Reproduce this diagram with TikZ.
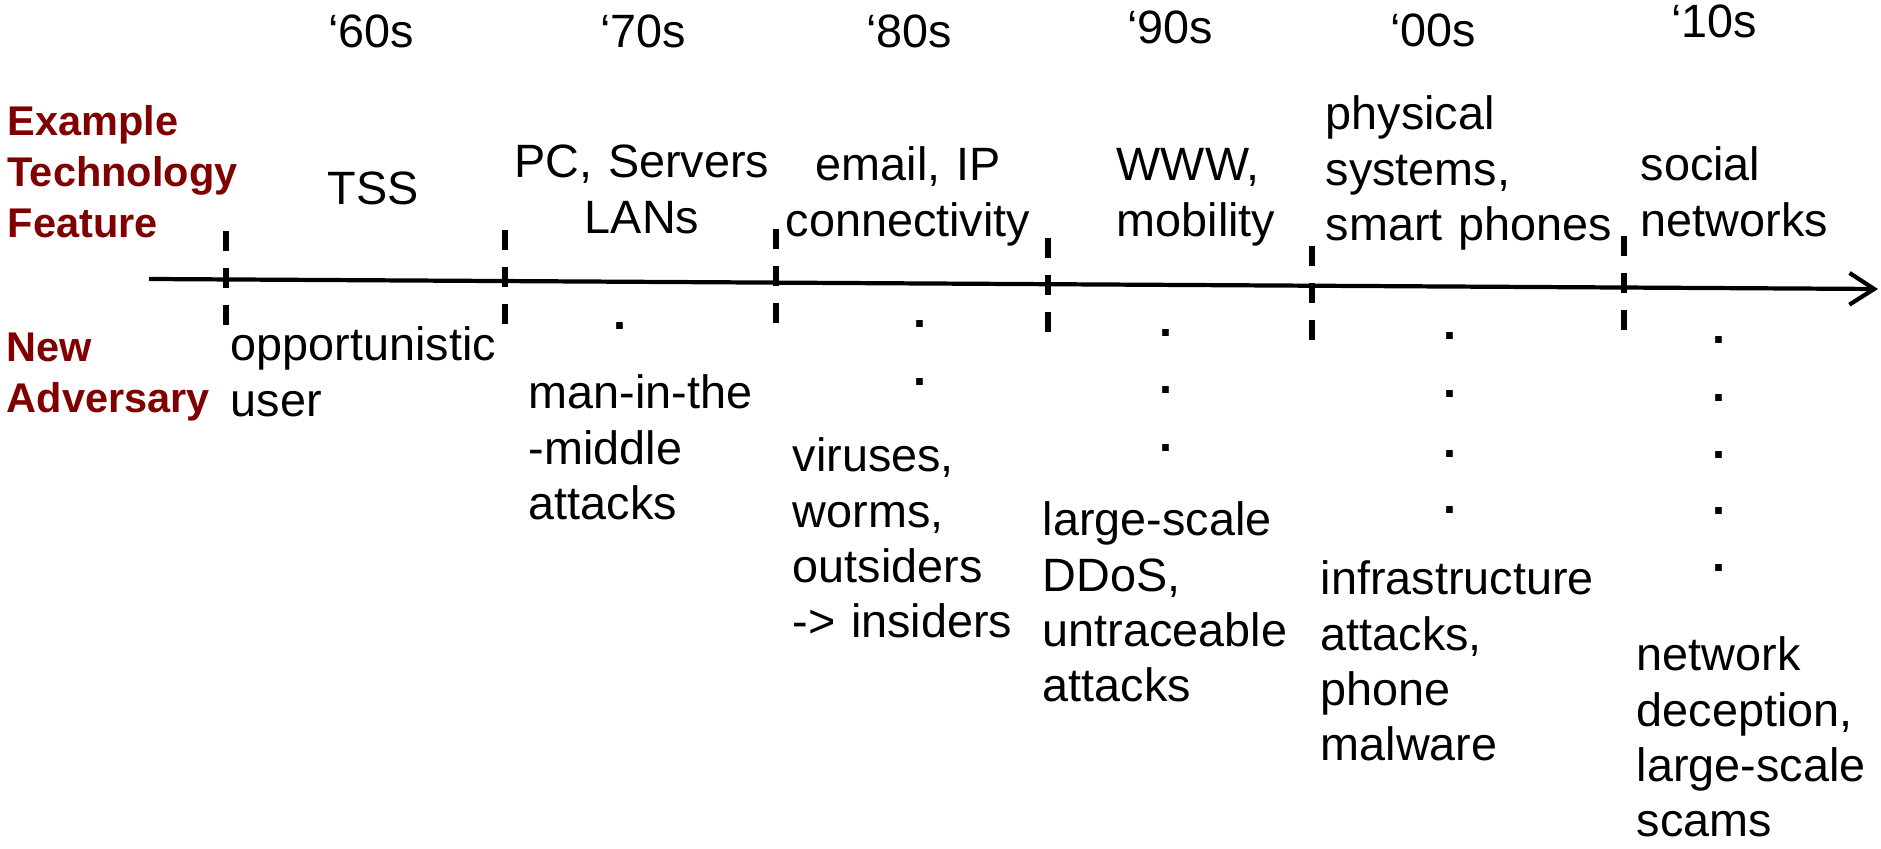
\documentclass[tikz,border=0pt]{standalone}
\usepackage{fontspec}
\setmainfont{Liberation Sans}
\usepackage{xcolor}
\definecolor{advred}{RGB}{128,0,0}
\usetikzlibrary{arrows.meta}

\begin{document}
\begin{tikzpicture}[x=0.01cm, y=-0.01cm,
  txt/.style={font=\fontsize{13.3}{15.65}\selectfont, inner sep=0pt, text width=3.2cm, align=left, anchor=base west},
  ctxt/.style={txt, align=center, anchor=base},
  rowlbl/.style={font=\fontsize{11.8}{14.5}\selectfont\bfseries, text=advred, inner sep=0pt, text width=2.7cm, align=left, anchor=base west},
  era/.style={dash pattern=on 5.7pt off 4.8pt, line width=1.5pt},
  dot/.style={font=\fontsize{13.3}{15.65}\selectfont\bfseries, inner sep=0pt}]
\useasboundingbox (0,0) rectangle (1881,849);

% time axis
\coordinate (tstart) at (149,279);
\coordinate (tend) at (1878,289);
\draw[line width=1.2pt, -{Straight Barb[length=7pt,width=9pt]}] (tstart) -- (tend);
\foreach \n/\x/\y in {1/226/231, 2/505/230, 3/776/229, 4/1048/238, 5/1312/246, 6/1624/236}{
\coordinate (t\n a) at (\x,\y);
\coordinate (t\n b) at (\x,\y+95);
\draw[era] (t\n a) -- (t\n b);
}

% row labels
\node[rowlbl] (lblfeat) at (7,136) {Example\\Technology\\Feature};
\node[rowlbl] (lbladv) at (6,362) {New\\Adversary};

% decades
\foreach \d/\x/\y in {60/371/48, 70/643/48, 80/909/48, 90/1170/44, 00/1433/47, 10/1714/38}{
\node[ctxt] (dec\d) at (\x,\y) {‘\d s};
}

% technology features
\node[ctxt] (feat60) at (373,205) {TSS};
\node[ctxt] (feat70) at (642,178) {PC, Servers\\LANs};
\node[ctxt] (feat80) at (908,181) {email, IP\\connectivity};
\node[txt] (feat90) at (1116,181) {WWW,\\mobility};
\node[txt] (feat00) at (1325,130) {physical\\systems,\\smart phones};
\node[txt] (feat10) at (1640,181) {social\\networks};

% adversaries
\node[txt] (adv60) at (230,361) {opportunistic\\user};
\node[txt] (adv70) at (528,409) {man-in-the\\-middle\\attacks};
\node[txt] (adv80) at (792,472) {viruses,\\worms,\\outsiders\\-> insiders};
\node[txt] (adv90) at (1042,536) {large-scale\\DDoS,\\untraceable\\attacks};
\node[txt] (adv00) at (1320,595) {infrastructure\\attacks,\\phone\\malware};
\node[txt] (adv10) at (1636,671) {network\\deception,\\large-scale\\scams};

% dots
\foreach \x/\y [count=\i] in {620/326, 920/324, 920/382, 1166/333, 1166/390, 1166/448,
  1450/336, 1450/394, 1450/454, 1450/510,
  1719/340, 1719/398, 1719/455, 1719/511, 1719/568}{
\node[dot] (dot\i) at (\x,\y) {.};
}
\end{tikzpicture}
\end{document}
